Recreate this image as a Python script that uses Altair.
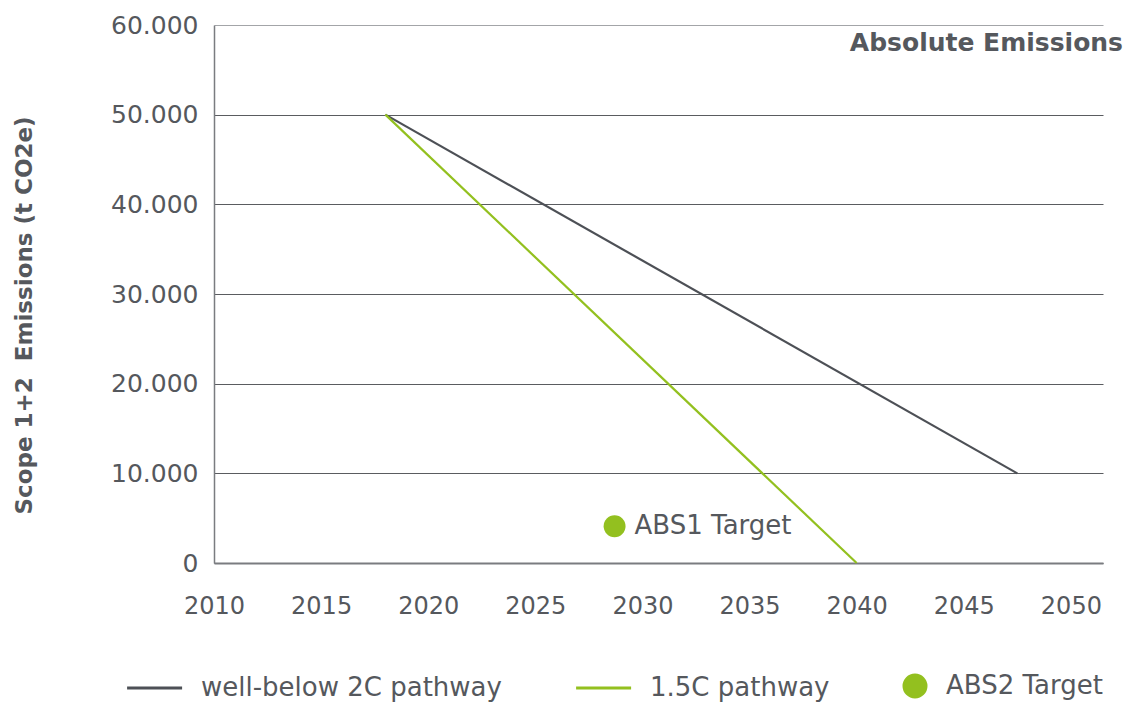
import altair as alt
import pandas as pd

# ---- data ----
series_names = ["well-below 2C pathway", "1.5C pathway", "ABS2 Target"]
wb2c_years = [2018, 2047.5]
wb2c_values = [50000, 10000]
p15_years = [2018, 2040]
p15_values = [50000, 0]
target_year = [2028.7]
target_value = [4100]
target_label = ["ABS1 Target"]
x_ticks = [2010, 2015, 2020, 2025, 2030, 2035, 2040, 2045, 2050]
y_ticks = [0, 10000, 20000, 30000, 40000, 50000, 60000]

GRAY = "#4d5056"
GREEN = "#93c01f"
TEXT = "#55585d"
FONT = "DejaVu Sans"

lines = pd.DataFrame(
    {
        "series": [series_names[0]] * 2 + [series_names[1]] * 2,
        "year": wb2c_years + p15_years,
        "value": wb2c_values + p15_values,
    }
)
target = pd.DataFrame(
    {"series": [series_names[2]], "year": target_year, "value": target_value, "label": target_label}
)

x_enc = alt.X(
    "year:Q",
    scale=alt.Scale(domain=[2010, 2051.5], nice=False, zero=False),
    axis=alt.Axis(
        values=x_ticks, format="d", title=None, grid=False, ticks=False,
        labelPadding=31, labelFontSize=24, labelColor=TEXT, labelFont=FONT,
        domainColor="#7a7c80", domainWidth=2, labelFlush=False,
    ),
)
y_enc = alt.Y(
    "value:Q",
    scale=alt.Scale(domain=[0, 60000], nice=False),
    axis=alt.Axis(
        values=y_ticks, labelExpr="replace(format(datum.value, ','), ',', '.')",
        title="Scope 1+2\u00a0 Emissions (t CO2e)", titleFontSize=23, titleFont=FONT,
        titleFontWeight="bold", titleColor=TEXT, titleX=-178, titleY=290,
        titleAngle=270, titleAlign="center", titleBaseline="bottom",
        grid=True,
        gridColor=alt.condition("datum.value == 60000", alt.value("#a3a5a8"), alt.value("#5a5c60")),
        gridWidth=1, ticks=False,
        labelPadding=16, labelFontSize=25, labelColor=TEXT, labelFont=FONT,
        domainColor="#7a7c80", domainWidth=1.5,
    ),
)

color_scale = alt.Scale(domain=series_names, range=[GRAY, GREEN, GREEN])
shape_scale = alt.Scale(
    domain=series_names,
    range=["M-3.9,0L1.1,0", "M-3.9,0L1.1,0", "circle"],
)

legend = alt.Legend(
    title=None, orient="none", direction="horizontal", legendX=-57, legendY=648,
    labelFontSize=26, labelFont=FONT, labelColor=TEXT, labelOffset=18,
    symbolSize=484, symbolStrokeWidth=3, columnPadding=68, labelLimit=400,
    symbolOpacity=1,
)

line_layer = alt.Chart(lines).mark_line(strokeWidth=2.2).encode(
    x=x_enc, y=y_enc,
    color=alt.Color("series:N", scale=color_scale, legend=legend),
    detail="series:N",
)

point_layer = alt.Chart(target).mark_point(filled=True, size=480, opacity=1).encode(
    x=x_enc, y=y_enc,
    color=alt.Color("series:N", scale=color_scale, legend=legend),
    shape=alt.Shape("series:N", scale=shape_scale, legend=legend),
)

label_layer = alt.Chart(target).mark_text(
    align="left", baseline="middle", dx=20, fontSize=26, font=FONT, color=TEXT
).encode(x=x_enc, y=y_enc, text="label:N")

chart = (
    alt.layer(line_layer, point_layer, label_layer)
    .resolve_legend(color="shared", shape="shared")
    .properties(
        width=889,
        height=538,
        autosize=alt.AutoSizeParams(type="none"),
        padding={"left": 214, "top": 25, "right": 24, "bottom": 139},
        title=alt.TitleParams(
            "Absolute Emissions", anchor="end", frame="group", dx=20, dy=63, offset=0,
            baseline="alphabetic", fontSize=25, font=FONT, fontWeight="bold", color=TEXT,
        ),
    )
    .configure_view(stroke=None)
)

chart.save("out.html", embed_options={"renderer": "svg", "actions": False})

# the chart fills the whole 1127x702 window itself, so drop the page margin
with open("out.html", encoding="utf-8") as f:
    html = f.read()
html = html.replace(
    "<head>",
    "<head>\n<style>html, body { margin: 0; padding: 0; overflow: hidden; }</style>",
    1,
)
with open("out.html", "w", encoding="utf-8") as f:
    f.write(html)
